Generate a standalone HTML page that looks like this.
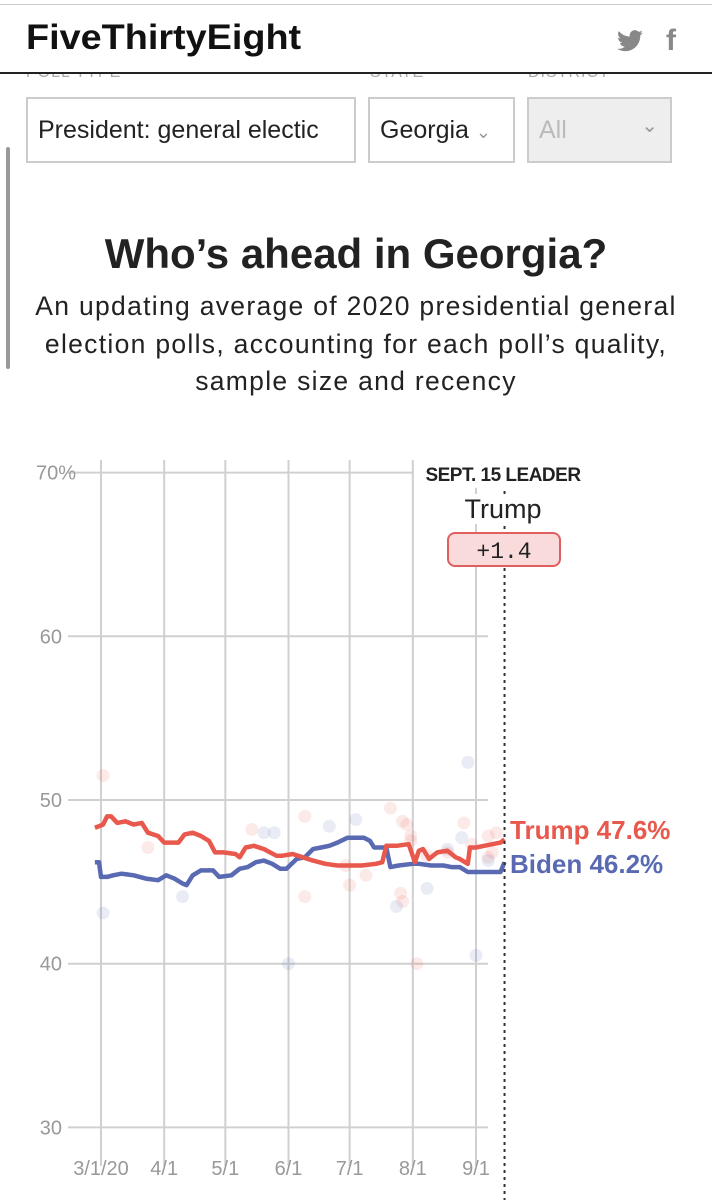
<!DOCTYPE html>
<html><head><meta charset="utf-8">
<style>
html,body{margin:0;padding:0;background:#fff;width:712px;height:1200px;overflow:hidden;font-family:"Liberation Sans",sans-serif;}
.hdr{position:absolute;left:0;top:0;width:712px;height:72px;border-bottom:2px solid #222;background:#fff;}
.topline{position:absolute;left:0;top:4px;width:712px;height:1px;background:#ccc;}
.logo{position:absolute;left:26px;top:18px;font:bold 35px "Liberation Sans Narrow","Liberation Sans",sans-serif;letter-spacing:0px;color:#111;transform:scaleX(1.08);transform-origin:left;}
.sel{position:absolute;top:97px;height:66px;border:2px solid #ccc;box-sizing:border-box;font-size:25px;color:#222;line-height:62px;padding-left:10px;background:#fff;}
.lbl{position:absolute;top:64px;font-size:16px;color:#aaa;letter-spacing:1px;}
h1{position:absolute;left:0;width:712px;top:230px;margin:0;text-align:center;font-size:42px;font-weight:bold;color:#222;}
.sub{position:absolute;left:0;width:712px;top:288px;text-align:center;font-size:26.5px;letter-spacing:1.3px;line-height:37.5px;color:#222;}
</style></head><body>
<div class="hdr">
<div class="topline"></div>
<div class="logo">FiveThirtyEight</div>
<svg style="position:absolute;left:617px;top:30px" width="26" height="22" viewBox="0 0 24 20"><path d="M24 2.4a9.8 9.8 0 0 1-2.8.8A4.9 4.9 0 0 0 23.3.4a9.8 9.8 0 0 1-3.1 1.2A4.9 4.9 0 0 0 11.8 6 14 14 0 0 1 1.7.9a4.9 4.9 0 0 0 1.5 6.6A4.9 4.9 0 0 1 1 6.9a4.9 4.9 0 0 0 3.9 4.8 4.9 4.9 0 0 1-2.2.1 4.9 4.9 0 0 0 4.6 3.4A9.900 9.900 0 0 1 0 17.2 14 14 0 0 0 7.5 19.4c9 0 14-7.5 14-14v-.6A10 10 0 0 0 24 2.4z" fill="#888"/></svg>
<div style="position:absolute;left:666px;top:24px;font:bold 30px 'Liberation Sans',sans-serif;color:#888">f</div>
</div>
<div class="lbl" style="left:26px">POLL TYPE</div>
<div class="lbl" style="left:370px">STATE</div>
<div class="lbl" style="left:528px">DISTRICT</div>
<div style="position:absolute;left:0;top:64px;width:712px;height:9px;background:#fff"></div>
<div style="position:absolute;left:0;top:72px;width:712px;height:2px;background:#222"></div>
<div class="sel" style="left:26px;width:330px;overflow:hidden;white-space:nowrap">President: general electic</div>
<div class="sel" style="left:368px;width:147px">Georgia <span style="color:#999;font-size:18px">&#8964;</span></div>
<div class="sel" style="left:527px;width:145px;background:#eee;color:#bbb">All <span style="position:absolute;right:12px;top:-4px;color:#999;font-size:20px">&#8964;</span></div>
<div style="position:absolute;left:6px;top:147px;width:4px;height:222px;background:#999;border-radius:2px"></div>
<h1>Who’s ahead in Georgia?</h1>
<div class="sub">An updating average of 2020 presidential general<br>election polls, accounting for each poll’s quality,<br>sample size and recency</div>
<svg id="chart" style="position:absolute;left:0;top:0" width="712" height="1200"></svg>
<script>
const yTicks=[70,60,50,40,30];
const xTickDays=[0,31,61,92,122,153,184];
const xTickLabels=["3/1/20","4/1","5/1","6/1","7/1","8/1","9/1"];
const trumpDays=[-3,1,3,5,8,12,16,20,23,28,31,38,41,45,49,53,56,60,66,68,71,75,80,86,89,94,99,104,110,116,122,128,135,138,140,145,151,154,156,158,161,165,170,174,176,180,181,184,188,192,196,198];
const trumpVals=[48.3,48.5,49.0,49.0,48.6,48.7,48.5,48.6,48.0,47.8,47.4,47.4,47.9,48.0,47.8,47.5,46.8,46.8,46.7,46.5,47.1,47.2,47.0,46.6,46.6,46.7,46.5,46.3,46.1,46.0,46.0,46.0,46.1,46.2,47.2,47.2,47.3,46.2,46.9,47.0,46.4,46.8,46.9,46.5,46.4,46.1,47.1,47.1,47.2,47.3,47.4,47.6];
const bidenDays=[-3,-1,0,3,6,10,16,22,28,32,36,40,42,45,49,55,58,64,68,72,76,80,84,88,91,96,100,104,108,112,116,121,125,129,132,134,140,142,146,153,156,162,168,172,176,180,186,192,196,198];
const bidenVals=[46.2,46.2,45.3,45.3,45.4,45.5,45.4,45.2,45.1,45.4,45.2,44.9,44.8,45.4,45.7,45.7,45.3,45.4,45.8,45.9,46.2,46.3,46.1,45.8,45.8,46.4,46.5,47.0,47.1,47.2,47.4,47.7,47.7,47.7,47.5,47.1,47.1,45.9,46.0,46.1,46.1,46.0,46.0,45.9,45.9,45.6,45.6,45.6,45.6,46.2];
const trumpPollDays=[1,74,100,120,122,130,142,148,150,152,160,170,178,190,194];
const trumpPollVals=[51.5,48.2,49.0,46.0,44.8,45.4,49.5,48.7,48.5,47.5,46.6,46.8,48.6,47.8,48.0];
const bidenPollDays=[1,40,80,85,92,112,125,145,160,170,177,180,184,190];
const bidenPollVals=[43.1,44.1,48.0,48.0,40.0,48.4,48.8,43.5,44.6,47.0,47.7,52.3,40.5,46.3];
const redPollDays=[23,100,147,148,152,155,182,190,192];
const redPollVals=[47.1,44.1,44.3,43.8,47.8,40.0,47.3,46.5,46.8];

const X0=101,PXD=375/184,Y50=800,PXV=16.37;
function xs(d){return X0+d*PXD;}
function ys(v){return Y50-(v-50)*PXV;}
const svg=document.getElementById('chart');
const NS='http://www.w3.org/2000/svg';
function mk(t,a,p){const e=document.createElementNS(NS,t);for(const k in a)e.setAttribute(k,a[k]);(p||svg).appendChild(e);return e;}
yTicks.forEach(v=>{
  const l=mk('line',{x1:68,x2:488,y1:ys(v),y2:ys(v),stroke:'#d0d0d0','stroke-width':2});
  
  
  const t=mk('text',{x:v===70?76:62,y:ys(v)+7,'text-anchor':'end','font-size':20,fill:'#999','font-family':'Liberation Sans Narrow, Liberation Sans, sans-serif'});
  t.textContent=v===70?'70%':String(v);
  
  
});
xTickDays.forEach((d,i)=>{
  const l=mk('line',{x1:xs(d),x2:xs(d),y1:460,y2:1166,stroke:'#d0d0d0','stroke-width':2});
  
  
  const t=mk('text',{x:xs(d),y:1175,'text-anchor':'middle','font-size':20,fill:'#999','font-family':'Liberation Sans Narrow, Liberation Sans, sans-serif'});
  t.textContent=xTickLabels[i];
  
  
});
function dots(days,vals,col,name){days.forEach((d,i)=>{
  const c=mk('circle',{cx:xs(d),cy:ys(vals[i]),r:6.5,fill:col,opacity:0.12});
  
  
});}
dots(trumpPollDays,trumpPollVals,'#e8554c','trump-poll-dot');
dots(redPollDays,redPollVals,'#e8554c','trump-poll-dot');
dots(bidenPollDays,bidenPollVals,'#5566b0','biden-poll-dot');
function line(days,vals,col,name){
  const p=mk('polyline',{points:days.map((d,i)=>xs(d).toFixed(1)+','+ys(vals[i]).toFixed(1)).join(' '),fill:'none',stroke:col,'stroke-width':4.5,'stroke-linejoin':'round'});
  
  
}
line(bidenDays,bidenVals,'#5a6ab2','biden-average-line');
line(trumpDays,trumpVals,'#e8584d','trump-average-line');
const ld=mk('line',{x1:xs(198),x2:xs(198),y1:470,y2:1200,stroke:'#333','stroke-width':2,'stroke-dasharray':'3,4'});


const bg=mk('rect',{x:414,y:456,width:178,height:32,fill:'#fff'});


const lt=mk('text',{x:503,y:481,'text-anchor':'middle','font-size':19,'font-weight':'bold',fill:'#222','letter-spacing':'-0.5'});
lt.textContent='SEPT. 15 LEADER';


const lnb=mk('rect',{x:460,y:494,width:86,height:30,fill:'#fff'});


const ln=mk('text',{x:503,y:518,'text-anchor':'middle','font-size':27,fill:'#222'});
ln.textContent='Trump';


const bx=mk('rect',{x:448,y:533,width:112,height:33,rx:7,fill:'#f9dbdb',stroke:'#e06060','stroke-width':2});


const bt=mk('text',{x:504,y:558,'text-anchor':'middle','font-size':23,fill:'#222','font-family':'Liberation Mono, monospace'});
bt.textContent='+1.4';


const tl=mk('text',{x:510,y:839,'font-size':26,'font-weight':'bold',fill:'#e8584d'});
tl.textContent='Trump 47.6%';


const bl=mk('text',{x:510,y:873,'font-size':26,'font-weight':'bold',fill:'#5a6ab2'});
bl.textContent='Biden 46.2%';


</script>
</body></html>
